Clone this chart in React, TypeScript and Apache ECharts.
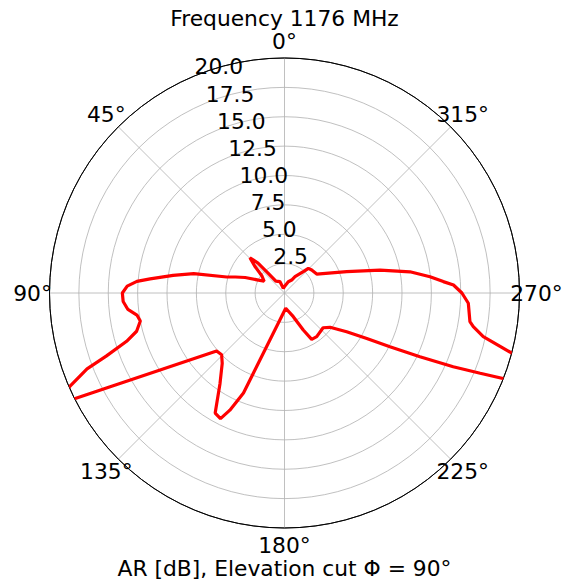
import React, { useEffect, useRef } from 'react';
import * as echarts from 'echarts';

// Elevation cut: angle (deg, counter-clockwise from top) and axial ratio (dB)
const angleDeg = [
  0, 14, 22, 36, 39.5, 41.5, 44.5, 48, 53, 60, 68.5, 72, 74.5, 78, 81, 84, 85.5, 87.5, 90,
  93, 96, 98.5, 101, 104.5, 107, 109.5, 111, 113.5, 116, 130.5, 134.5, 138.5, 144.5, 150,
  153, 155, 157.7, 184.5, 200.4, 206.9, 210.4, 216.4, 228, 233, 238.1, 241.1, 243, 244.8,
  246.4, 247.7, 251, 257.6, 259.9, 261.2, 266.8, 270, 272.7, 274.1, 276.4, 279.6, 283.5,
  288.9, 300.5, 310.2, 316, 318.6, 327.2, 331, 341.4, 360,
];
const arDb = [
  0.55, 0.42, 1.05, 1.25, 2.2, 3.4, 4.2, 3.4, 2.4, 2.0, 3.6, 4.4, 5.1, 7.9, 9.6, 11.5, 12.6, 13.4, 13.8,
  13.75, 13.4, 12.7, 12.5, 13.0, 14.05, 16.1, 18.0, 19.9, 22.0, 7.6, 7.5, 8.0, 9.45, 11.8,
  12.0, 11.0, 9.2, 1.3, 2.15, 3.53, 4.57, 4.62, 4.42, 4.85, 6.23, 8.0, 10.07, 12.74,
  15.67, 18.0, 27.5, 17.32, 16.32, 15.97, 15.67, 15.1, 14.4, 13.55, 12.46, 10.83, 8.36,
  5.6, 3.18, 3.03, 2.92, 2.42, 1.65, 1.26, 1.01, 0.55,
];

const angleTicks = [0, 45, 90, 135, 180, 225, 270, 315];
const radiusTicks = [2.5, 5, 7.5, 10, 12.5, 15, 17.5, 20];
const titleText = 'Frequency 1176 MHz';
const xLabelText = 'AR [dB], Elevation cut Φ = 90°';

const W = 574;
const H = 586;
const CX = 284.5;
const CY = 293;
const R = 235;
const RMAX = 20;
const FONT = 'DejaVu Sans';
const FS = 21.8;

export default function App() {
  const ref = useRef<HTMLDivElement>(null);
  useEffect(() => {
    document.body.style.margin = '0';
    const chart = echarts.init(ref.current!, null, { renderer: 'svg' });
    const toXY = (r: number, a: number) => {
      const t = (a * Math.PI) / 180;
      const p = (r / RMAX) * R;
      return [CX - p * Math.sin(t), CY - p * Math.cos(t)];
    };
    const txt = (text: string, x: number, y: number, align: string, valign: string) => ({
      type: 'text',
      x,
      y,
      z: 10,
      style: {
        text,
        fill: '#000',
        fontSize: FS,
        fontFamily: FONT,
        lineHeight: 20,
        align,
        verticalAlign: valign,
        textAlign: align,
        textVerticalAlign: valign,
      },
    });
    const graphics: any[] = [];
    angleTicks.forEach((a) => {
      const [x, y] = toXY((RMAX * (R + 17)) / R, a);
      graphics.push(txt(a + '°', x, y, 'center', 'middle'));
    });
    radiusTicks.forEach((r) => {
      const [x, y] = toXY(r, 22.5);
      graphics.push(txt(r.toFixed(1), x, y + 1, 'left', 'bottom'));
    });
    graphics.push(txt(titleText, CX, 18, 'center', 'middle'));
    graphics.push(txt(xLabelText, CX, 568.5, 'center', 'middle'));

    const ringColors = radiusTicks.map((r) => (r === RMAX ? '#000' : '#b0b0b0'));
    ringColors.unshift('#b0b0b0');

    chart.setOption({
      animation: false,
      textStyle: { fontFamily: FONT },
      polar: { center: [CX, CY], radius: R },
      angleAxis: {
        type: 'value',
        min: 0,
        max: 360,
        interval: 45,
        startAngle: 90,
        clockwise: false,
        axisLine: { show: true, lineStyle: { color: '#000', width: 1 } },
        axisTick: { show: false },
        axisLabel: { show: false },
        splitLine: { show: true, lineStyle: { color: '#b0b0b0', width: 0.8 } },
      },
      radiusAxis: {
        type: 'value',
        min: 0,
        max: RMAX,
        interval: 2.5,
        axisLine: { show: false },
        axisTick: { show: false },
        axisLabel: { show: false },
        splitLine: { show: true, lineStyle: { color: ringColors, width: 0.8 } },
      },
      series: [
        {
          type: 'line',
          coordinateSystem: 'polar',
          data: angleDeg.map((a, i) => [arDb[i], a]),
          symbol: 'none',
          showSymbol: false,
          clip: true,
          lineStyle: { color: '#ff0000', width: 3.2 },
          z: 5,
        },
      ],
      graphic: graphics,
    });
    return () => chart.dispose();
  }, []);
  return <div ref={ref} style={{ width: W, height: H }} />;
}
